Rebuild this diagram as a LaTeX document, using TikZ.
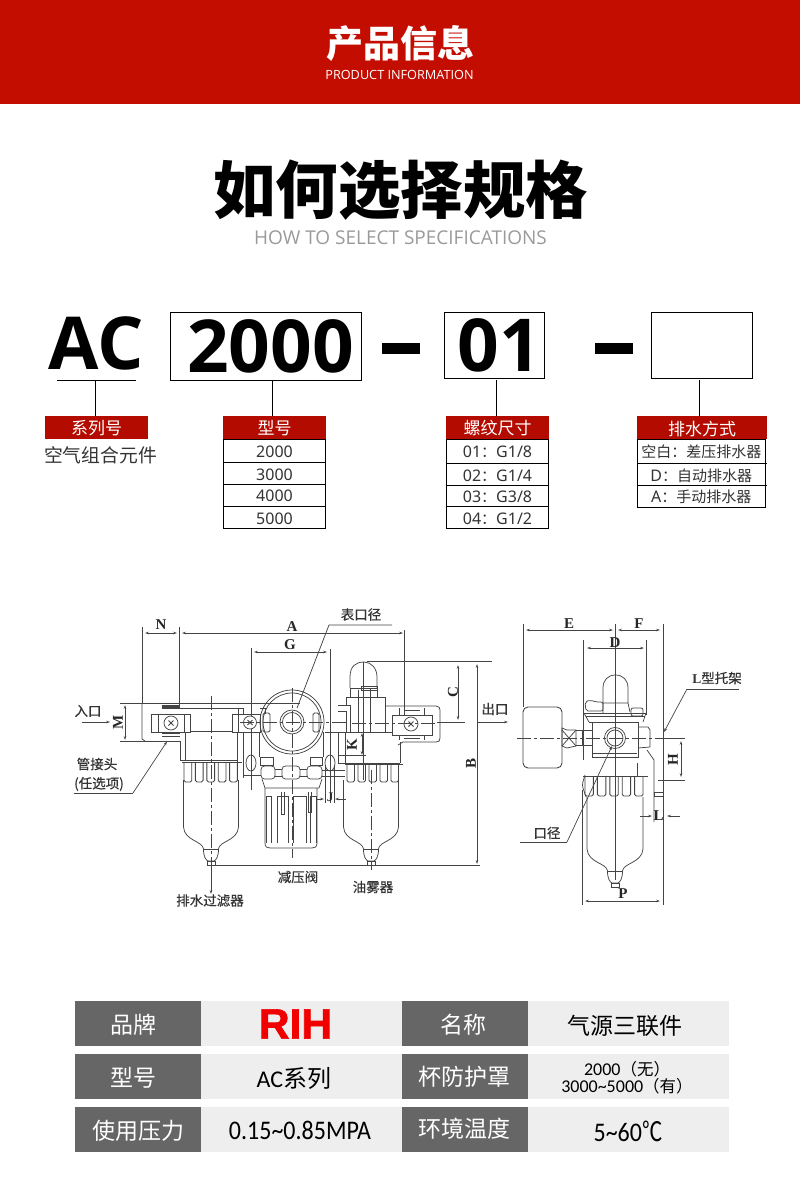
\documentclass[tikz,border=0pt]{standalone}
\usepackage{fontspec}
\setmainfont{Noto Sans CJK SC}
\newfontfamily\opf{Open Sans}
\newfontfamily\nsf{Noto Sans}
\newfontfamily\crf{Carlito}
\newfontfamily\lsf[BoldFeatures={FakeBold=1.6}]{Liberation Sans}
\newfontfamily\lrf{Liberation Serif}
\newfontfamily\cjm[FakeBold=0.5]{Noto Sans CJK SC}
\usetikzlibrary{arrows.meta}
\definecolor{hdr}{HTML}{C30D00}
\definecolor{lblred}{HTML}{B40B00}
\definecolor{dk}{HTML}{666666}
\definecolor{lt}{HTML}{EEEEEE}
\definecolor{subg}{HTML}{9A9A9A}
\definecolor{ink}{HTML}{444444}
\newcommand{\fs}[1]{\fontsize{#1}{#1}\selectfont}
\newcommand{\dn}[2]{\raisebox{-#1pt}[\height][\depth]{#2}}
\tikzset{
 txt/.style={inner sep=0pt,outer sep=0pt,align=center},
 boxx/.style={draw=black,line width=.8pt,inner sep=0pt,outer sep=0pt,anchor=north west},
 conn/.style={draw=black,line width=.8pt},
 redl/.style={txt,fill=lblred,text=white,anchor=north west,minimum height=23pt,font=\fs{17}},
 rowc/.style={boxx,align=center,text=black!80,font=\fs{15}},
 dkc/.style={inner sep=0pt,outer sep=0pt,fill=dk,anchor=north west,minimum width=126pt,minimum height=45pt},
 ltc/.style={inner sep=0pt,outer sep=0pt,fill=lt,anchor=north west,minimum width=201pt,minimum height=45pt},
 kt/.style={txt,text=white,font=\fs{23}},
 vt/.style={txt,text=black},
 ln/.style={draw=ink,line width=.75pt},
 cl/.style={draw=ink,line width=.6pt},
 ctr/.style={cl,dash pattern=on 14pt off 3pt on 3pt off 3pt},
 dimn/.style={draw=ink,line width=.7pt,{Stealth[length=4pt,width=2.6pt]}-{Stealth[length=4pt,width=2.6pt]}},
 arr/.style={draw=ink,line width=.7pt,-{Stealth[length=4pt,width=2.6pt]}},
 lab/.style={txt,text=black!80,font=\fs{13.5}\cjm},
 dl/.style={txt,text=black!85,font=\fs{15}\lrf\bfseries},
}
\newcommand{\bowlshape}[5]{% cx, half width, y top, y shoulder, y neck
 \draw[ln] ({#1-#2},#3) -- ({#1-#2},{#4-8}) .. controls ({#1-#2+1},{#4+6}) and ({#1-8},{#4+6}) .. ({#1-7.5},{#5-2}) .. controls ({#1-7.5},{#5+6}) and ({#1-5},{#5+9}) .. ({#1-3},{#5+10}) -- ({#1+3},{#5+10}) .. controls ({#1+5},{#5+9}) and ({#1+7.5},{#5+6}) .. ({#1+7.5},{#5-2}) .. controls ({#1+8},{#4+6}) and ({#1+#2-1},{#4+6}) .. ({#1+#2},{#4-8}) -- ({#1+#2},#3);
 \draw[ln] ({#1-7.5},{#5-2}) -- ({#1+7.5},{#5-2});
 \draw[ln] ({#1-4},{#5+10}) rectangle ({#1+4},{#5+14});
}
\newcommand{\finrow}[5]{% x0, x1, ytop, ybot, n
 \foreach \i in {1,...,#5}{
  \pgfmathsetmacro{\xa}{#1+(\i-1)*(#2-#1)/#5}
  \pgfmathsetmacro{\xb}{\xa+0.68*(#2-#1)/#5}
  \draw[ln,line width=.9pt,rounded corners=1.6pt] (\xa,#3) -- (\xa,#4) -- (\xb,#4) -- (\xb,#3);
 }
 \draw[ln,line width=1pt] ({#1-2},#3) -- ({#2+1},#3);
}
\begin{document}
\begin{tikzpicture}[x=1pt,y=-1pt]
\useasboundingbox (0,0) rectangle (800,1192);
% header
\fill[hdr] (0,0) rectangle (800,104);
\node[txt,text=white,font=\fs{37}\bfseries] (title) at (400,44) {产品信息};
\node[txt,text=white,font=\fs{12.7}\opf] (subtitle) at (399.5,74.5) {PRODUCT INFORMATION};
\node[txt,text=black,font=\fs{62.5}\bfseries] (heading) at (400.5,190) {如何选择规格};
\node[txt,text=subg,font=\fs{19}\opf] (subheading) at (400.5,238) {HOW TO SELECT SPECIFICATIONS};
% code line
\node[txt,font=\fs{73}\opf\bfseries] (ac) at (96,343) {AC};
\node[boxx,minimum width=191pt,minimum height=68pt,font=\fs{73}\opf\bfseries] (bxa) at (170,312) {\hspace*{10pt}2000};
\node[boxx,minimum width=100pt,minimum height=66pt,font=\fs{73}\opf\bfseries] (bxb) at (444,312) {\hspace*{10pt}01};
\node[boxx,minimum width=101pt,minimum height=66pt] (bxc) at (651,312) {};
\fill[black] (382,343) rectangle (420,354);
\fill[black] (595,343) rectangle (633,354);
\coordinate (aca) at (57,380); \coordinate (acb) at (136,380);
\draw[conn] (aca) -- (acb);
% labels
\node[redl,minimum width=103pt] (la) at (45,416) {\dn{1}{系列号}};
\node[redl,minimum width=103pt] (lb) at (223,416) {\dn{1}{型号}};
\node[redl,minimum width=103pt] (lc) at (446,416) {\dn{1}{螺纹尺寸}};
\node[redl,minimum width=130pt] (ld) at (637,416) {\dn{1}{排水方式}};
\coordinate (ca) at (95,380); \coordinate (cb) at (272,380.5); \coordinate (cc) at (496.5,380); \coordinate (cd) at (699,380);
\draw[conn] (ca) -- (ca |- la.north);
\draw[conn] (cb) -- (cb |- lb.north);
\draw[conn] (cc) -- (cc |- lc.north);
\draw[conn] (cd) -- (cd |- ld.north);
\node[txt,text=black!80,font=\fs{18.8}] (series) at (100.5,455) {空气组合元件};
% rows
\foreach \nm/\y/\h/\t in {ra/439/23/{\dn{1}{2000}},rb/462/22/{\dn{2}{3000}},rc/484/22/{\dn{1}{4000}},rd/506/22/{\dn{2}{5000}}}
 \node[rowc,font=\fs{16}\nsf,minimum width=102pt,minimum height=\h pt] (\nm) at (223.5,\y) {\t};
\foreach \nm/\y/\h/\t in {sa/439/24/{\dn{1}{{\nsf\fs{16}01}：{\nsf\fs{16}G1/8}}},sb/463/22/{\dn{2}{{\nsf\fs{16}02}：{\nsf\fs{16}G1/4}}},sc/485/21/{\dn{1}{{\nsf\fs{16}03}：{\nsf\fs{16}G3/8}}},sd/506/22/{\dn{2}{{\nsf\fs{16}04}：{\nsf\fs{16}G1/2}}}}
 \node[rowc,minimum width=102pt,minimum height=\h pt] (\nm) at (446.5,\y) {\t};
\foreach \nm/\y/\h/\t in {ta/439/24/{\dn{1}{空白：差压排水器}},tb/463/22/{\dn{2}{{\nsf\fs{16}D}：自动排水器}},tc/485/22/{\dn{1}{{\nsf\fs{16}A}：手动排水器}}}
 \node[rowc,minimum width=127.5pt,minimum height=\h pt] (\nm) at (637.5,\y) {\t};
\draw[conn] (tb.north east) -- ++(2,0);
\draw[conn] (tc.north east) -- ++(2,0);

% ---------- front view ----------
\draw[ln] (142,627) -- (142,703);
\draw[ln] (179,627) -- (179,706);
\draw[ln] (404,630) -- (404,716);
\draw[ln] (251,648) -- (251,790);
\draw[ln] (330,649) -- (330,803);
\draw[dimn] (145,633) -- (177,633);
\draw[dimn] (182,633) -- (403,633);
\draw[dimn] (254,652) -- (327,652);
\node[dl] (dN) at (161,624.5) {N};
\node[dl] (dA) at (292,627) {A};
\node[dl] (dG) at (290,645) {G};
\node[lab] (t1) at (361,614.5) {表口径};
\draw[ln] (392,625) -- (329,625) -- (297,708);
% C / B
\draw[ln] (367,661) -- (492,661);
\draw[dimn] (458,665) -- (458,720);
\draw[dimn] (477,664) -- (477,864);
\node[dl,rotate=90] (dC) at (453,692) {C};
\node[dl,rotate=90] (dB) at (471,763) {B};
\draw[ln] (437,722) -- (465,722);
\draw[arr] (478,722) -- (508,722);
\node[lab] (t2) at (495,709) {出口};
% inlet
\node[lab] (t3) at (88,711) {入口};
\draw[arr] (82,722) -- (110,722);
\draw[ln] (120,703) -- (300,703);
\draw[ln] (120,741) -- (180,741);
\draw[dimn] (125,705) -- (125,740);
\node[dl,rotate=90] (dM) at (118,722) {M};
% leader 管接头
\node[lab] (t4) at (97,764) {管接头};
\node[lab] (t5) at (99,784) {(任选项)};
\draw[ln] (74,793) -- (133,793);
\draw[arr] (133,793) -- (167,741.5);
% left housing
\draw[ln] (142,703) -- (142,739) -- (145,741);
\draw[ln] (151,714) rectangle (190,732);
\draw[ln] (158,714) -- (158,732);
\draw[ln] (184,714) -- (184,732);
\draw[ln,fill=white] (171,723) circle (7);
\draw[ln] (168.5,720.5) -- (173.5,725.5) (168.5,725.5) -- (173.5,720.5);
\draw[ln,line width=1.1pt] (162,706) -- (180,706) (162,708) -- (180,708);
\draw[ln] (162,733) -- (180,733) (162,736) -- (180,736);
\draw[ln] (180,708) -- (238,708) (190,731) -- (232,731) (180,741) -- (180,760) (185,732) -- (185,760) (180,760) -- (238,760);
\draw[ln] (232,714) rectangle (260,732);
\draw[ln] (238,714) -- (238,732);
\draw[ln,fill=white] (250,722.5) circle (6.5);
\draw[ln] (247.5,720) -- (252.5,725) (247.5,725) -- (252.5,720);
\draw[ln] (238,708) rectangle (243,714);
\draw[ln] (237,732) -- (237,778) (243,732) -- (243,778);
\draw[ln] (259,732) -- (259,757) (323,732) -- (323,757);
\draw[ln] (260,708) -- (265,708) -- (265,714);
\draw[ln] (251,763) ellipse (5 and 8);
\finrow{184}{241}{762}{782}{5}
\bowlshape{211}{27.5}{780}{835}{851}
\draw[ctr] (211,696) -- (211,890);
\draw[arr] (211,866) -- (211,894);
\node[lab] (t6) at (210,900.5) {排水过滤器};
\draw[ln] (216,865) -- (480,865);
% center port
\draw[ln] (292,722) circle (32);
\draw[ln] (292,722) circle (29);
\draw[ln] (292,722) circle (12);
\draw[ln] (292,722) circle (9.5);
\draw[ln,rounded corners=1.5pt] (263,713) rectangle (270,732);
\draw[ln,rounded corners=1.5pt] (313,713) rectangle (319,732);
\draw[ctr] (240,722.5) -- (346,722.5);
\draw[ctr] (292,688) -- (292,858);
\draw[ln] (260,757) rectangle (273,765);
\draw[ln] (310,757) rectangle (322,765);
% nuts
\foreach \a/\b in {261/275,282/300,307/322}
 \draw[ln,rounded corners=3.5pt] (\a,766) rectangle (\b,779);
\foreach \a/\b in {275/282,300/307}
 \draw[ln] (\a,769) -- (\b,769) (\a,776) -- (\b,776);
\draw[ln] (243,775) -- (261,775) (322,770) -- (345,770) (322,776) -- (345,776);
\draw[ln] (262,779) -- (265,788) -- (319,788) -- (322,779);
% spring chamber
\draw[ln] (265,788) -- (265,843) .. controls (265,847) and (267,848) .. (270,848) -- (312,848) .. controls (315,848) and (317,847) .. (317,843) -- (317,788);
\foreach \a/\b in {266/271,277/288,293/306,310/316}
 \draw[ln,line width=1pt] (\a,796) -- (\a,843) (\b,796) -- (\b,843) (\a,796) -- (\b,796);
\draw[ln] (281,792) -- (281,814) -- (284,814) -- (284,792);
\draw[ln] (308,792) -- (308,812) -- (311,812) -- (311,792);
% J
\node[dl,font=\fs{13}\lrf\bfseries] (dJ) at (330,797) {J};
\draw[arr] (316,799) -- (324,799);
\draw[arr] (346,799) -- (335,799);
\draw[ln] (325,765) -- (325,803) (334,765) -- (334,803);
% right unit
\draw[ln] (350,688) -- (350,677) .. controls (350,666) and (356,662) .. (364,662) .. controls (371,662) and (377,668) .. (377,677) -- (377,688);
\draw[ln] (350,688) -- (377,688) -- (377,697) (350,688) -- (350,697);
\draw[ln] (346,697) -- (385,697) -- (385,732) (346,697) -- (346,705);
\draw[ln] (363,662) -- (363,780);
\draw[ln] (358,690) -- (358,732) (370,688) -- (370,732) (361,686) rectangle (377,690);
\draw[ln] (338,705) -- (350,705) -- (350,732) (325,732) -- (392,732);
\draw[ln] (338,711) -- (346,711) -- (346,732);
\draw[ln] (385,706) -- (436,706) .. controls (439,706) and (440,708) .. (440,710) -- (440,738) .. controls (440,741) and (439,742) .. (436,742) -- (403,742) -- (398,745);
\draw[ln] (392,715) rectangle (432,735);
\draw[ln] (399,715) -- (399,708) (424,715) -- (424,708) (399,735) -- (399,740) (424,735) -- (424,740);
\draw[ln,fill=white] (411,724) circle (7);
\draw[ln] (408.5,721.5) -- (413.5,726.5) (408.5,726.5) -- (413.5,721.5);
\draw[ln] (404,710) -- (420,710) (404,738) -- (420,738);
\draw[ln] (338,732) -- (338,763) (400,742) -- (400,763) (345,732) -- (345,763) (338,763) -- (400,763);
\draw[ln] (338,755) -- (366,755);
\draw[ctr] (352,723) -- (437,723);
\node[dl,rotate=90] (dK) at (352,745) {K};
\draw[dimn] (362,733) -- (362,755);
\draw[ln] (330,763) ellipse (5 and 8);
\finrow{347}{402}{764}{782}{5}
\bowlshape{371}{27.5}{780}{835}{851}
\draw[ctr] (371,770) -- (371,870);
\node[lab] (t7) at (298,877) {减压阀};
\node[lab] (t8) at (373,887) {油雾器};

% ---------- side view ----------
\draw[ln] (523,624) -- (523,707);
\draw[ln] (615,624) -- (615,880);
\draw[ln] (663,624) -- (663,905);
\draw[ln] (583,640) -- (583,760) (582,790) -- (582,905);
\draw[ln] (646,640) -- (646,715);
\draw[dimn] (526,630) -- (613,630);
\draw[dimn] (618,630) -- (660,630);
\draw[dimn] (587,648) -- (644,648);
\draw[dimn] (585,901) -- (660,901);
\node[dl] (dE) at (569,624) {E};
\node[dl] (dF) at (639,624) {F};
\node[dl] (dD) at (615,643) {D};
\node[dl] (dP) at (623,894) {P};
\node[lab] (t9) at (717,678) {{\lrf\bfseries L}型托架};
\draw[ln] (739,689) -- (687,689);
\draw[arr] (687,689) -- (664,732);
\node[lab] (t10) at (547,833) {口径};
\draw[ln] (520,842) -- (567,842);
\draw[arr] (567,842) -- (612,746);
% gauge
\draw[ln,rounded corners=5pt,line width=.9pt] (523,707) rectangle (562,768);
\draw[ln] (562,728) -- (567,730) -- (576,730) -- (576,746) -- (567,748) -- (562,746) -- cycle;
\draw[ln] (562,730) -- (576,746) (562,746) -- (576,730);
\draw[ln] (576,730) -- (592,730) (576,745) -- (592,745) (582,730) -- (582,745);
% block
\draw[ln] (592,722) rectangle (638,757);
\draw[ln] (593,753) -- (637,753);
\draw[ln] (638,727) -- (648,727) -- (650,730) -- (650,747) -- (638,748);
\draw[ln] (615,738) circle (10.5);
\draw[ln] (615,738) circle (8);
\draw[ln] (603,703) -- (603,688) .. controls (603,680) and (608,675) .. (615.5,675) .. controls (623,675) and (628,680) .. (628,688) -- (628,703);
\draw[ln] (603,703) -- (628,703) -- (630,712) (603,703) -- (603,713);
\draw[ln] (584,713) -- (646,713) (586,716) -- (645,716) (589,722) -- (637,722);
\draw[ln] (584,713) -- (589,722) (646,713) -- (643,722);
\draw[ln,rounded corners=2pt] (585,702) -- (590,700) -- (596,702) -- (603,702) -- (603,711) -- (586,711) -- cycle;
\draw[ln,rounded corners=2pt] (631,708) rectangle (643,716);
\draw[ctr] (517,738) -- (660,738);
% H
\draw[ln] (660,738) -- (685,738) (658,780) -- (685,780);
\draw[dimn] (681,741) -- (681,777);
\node[dl,rotate=90] (dH) at (673,760) {H};
% lower
\draw[ln] (637,763) -- (637,777);
\finrow{585}{647}{776}{796}{5}
\draw[ln,rounded corners=3pt] (585,775) -- (582,785) -- (586,797);
\bowlshape{615}{28}{797}{857}{873}
% bracket
\draw[ln] (647,750) -- (654,760) -- (654,822);
\draw[ln] (654,792) rectangle (663,796);
\draw[arr] (640,816) -- (652,816);
\draw[arr] (680,816) -- (667,816);
\node[dl] (dL) at (658.5,816) {L};

% ---------- table ----------
\node[dkc] (k1) at (75,1001) {};
\node[ltc] (v1) at (201,1001) {};
\node[dkc] (k2) at (402,1001) {};
\node[ltc] (v2) at (528,1001) {};
\node[dkc] (k3) at (75,1054) {};
\node[ltc] (v3) at (201,1054) {};
\node[dkc] (k4) at (402,1054) {};
\node[ltc] (v4) at (528,1054) {};
\node[dkc] (k5) at (75,1107) {};
\node[ltc] (v5) at (201,1107) {};
\node[dkc] (k6) at (402,1107) {};
\node[ltc] (v6) at (528,1107) {};
\node[kt] (tk1) at (133.5,1025) {品牌};
\node[kt] (tk2) at (463.5,1025) {名称};
\node[kt] (tk3) at (133.5,1078) {型号};
\node[kt] (tk4) at (464.5,1077) {杯防护罩};
\node[kt] (tk5) at (138.5,1131) {使用压力};
\node[kt] (tk6) at (464.5,1129) {环境温度};
\node[txt,text=red!95!black,font=\fs{42.5}\lsf\bfseries] (rih) at (295.5,1024) {RIH};
\node[vt,font=\fs{23}] (tv2) at (625,1026) {气源三联件};
\node[vt,font=\fs{24}] (tv3) at (294,1078.5) {{\crf AC}系列};
\node[vt,font=\fs{16.5}] (tv4) at (627,1077.5) {{\crf\fs{18}2000}（无）\\{\crf\fs{18}3000\textasciitilde5000}（有）};
\node[vt,font=\fs{24}\crf] (tv5) at (300,1130) {\scalebox{1}[1.12]{0.15\textasciitilde0.85MPA}};
\node[vt,font=\fs{24}] (tv6) at (628,1131) {\scalebox{1}[1.12]{{\crf 5\textasciitilde60}\scalebox{.85}[1]{℃}}};
\end{tikzpicture}
\end{document}
